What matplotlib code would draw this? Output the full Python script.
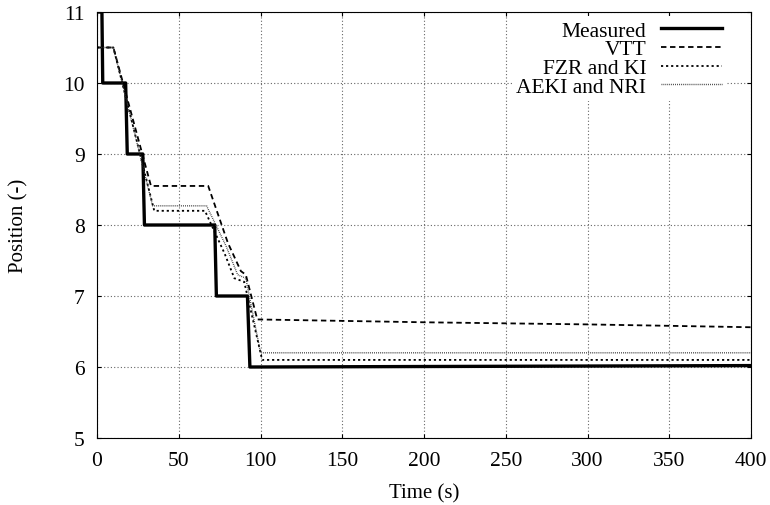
import numpy as np
import matplotlib.pyplot as plt

plt.rcParams['font.family'] = ['Liberation Serif', 'DejaVu Serif']

# Measured
t_meas = [0, 3, 3.5, 17.5, 18.5, 28, 29, 72, 73, 92, 93.5, 400]
y_meas = [11, 11, 10, 10, 9, 9, 8, 8, 7, 7, 6, 6.02]

# VTT
t_vtt = [0, 10, 33, 68, 80, 88, 91, 98, 200, 300, 400]
y_vtt = [10.5, 10.5, 8.55, 8.55, 7.75, 7.35, 7.3, 6.67, 6.63, 6.6, 6.56]

# FZR and KI
t_fzr = [0, 10, 35, 66, 78, 84, 90, 101, 400]
y_fzr = [10.5, 10.5, 8.2, 8.2, 7.6, 7.25, 7.2, 6.1, 6.1]

# AEKI and NRI
t_aeki = [0, 10, 34, 67, 79, 86, 91, 100, 400]
y_aeki = [10.5, 10.5, 8.27, 8.27, 7.7, 7.3, 7.25, 6.2, 6.2]

fig = plt.figure(figsize=(7.7, 5.06), dpi=100)
ax = fig.add_axes([0.126, 0.1324, 0.8494, 0.8419])

ax.plot(t_meas, y_meas, color='black', lw=2.4, label='Measured')
ax.plot(t_vtt, y_vtt, color='black', lw=1.3, ls=(0, (3, 2)), label='VTT')
ax.plot(t_fzr, y_fzr, color='black', lw=1.3, ls=(0, (1.2, 1.6)), label='FZR and KI')
ax.plot(t_aeki, y_aeki, color='#333333', lw=1.0, ls=(0, (0.6, 0.8)), label='AEKI and NRI')

ax.set_xlim(0, 400)
ax.set_ylim(5, 11)
ax.set_xticks(np.arange(0, 401, 50))
ax.set_yticks(np.arange(5, 12, 1))
ax.grid(True, color='#666666', ls=(0, (1, 2)), lw=0.8)
ax.tick_params(direction='in', top=True, right=True, labelsize=15.5, length=3, pad=9)
ax.set_xlabel('Time (s)', fontsize=15, labelpad=10)
ax.set_ylabel('Position (-)', fontsize=15, labelpad=25)

leg = ax.legend(loc='upper right', bbox_to_anchor=(0.965, 0.995), markerfirst=False,
                fontsize=15.5, frameon=True, handlelength=2.8, handletextpad=0.7,
                labelspacing=-0.06, borderpad=0.2, borderaxespad=0.1)
leg.get_frame().set_edgecolor('none')
leg.get_frame().set_alpha(1)
for t in leg.get_texts():
    t.set_ha('right')

fig.savefig('out.png')
